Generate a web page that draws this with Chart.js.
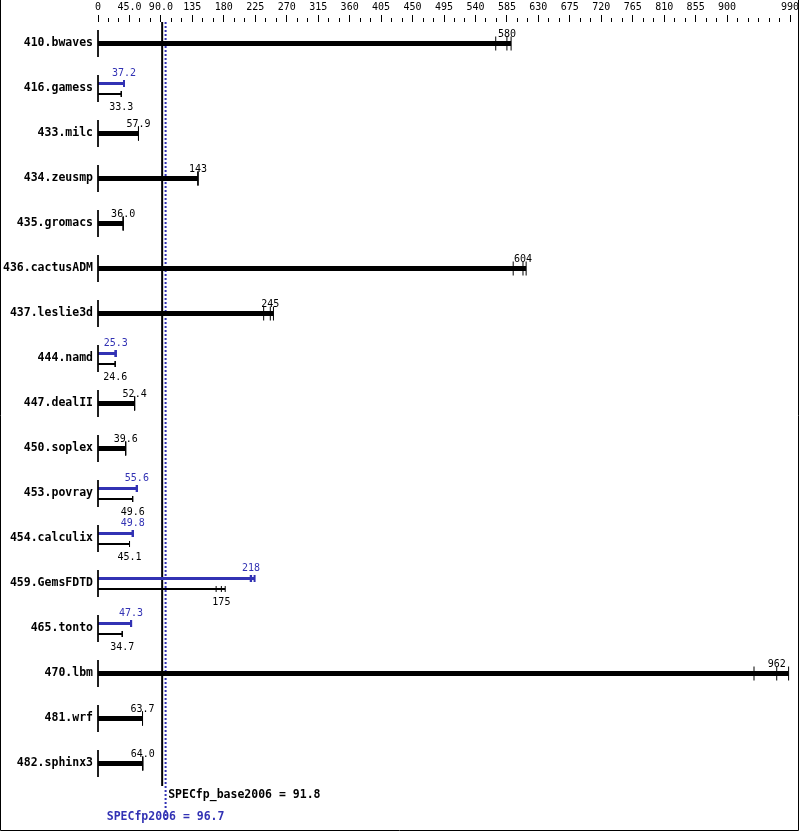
<!DOCTYPE html>
<html>
<head>
<meta charset="utf-8">
<title>SPECfp2006</title>
<script src="https://cdn.jsdelivr.net/npm/chart.js@4.4.1/dist/chart.umd.min.js"></script>
<style>
  html, body { margin: 0; padding: 0; background: #fff; }
  #chart { display: block; }
</style>
</head>
<body>
<canvas id="chart" width="799" height="831"></canvas>
<script>
  /* ---------- data ---------- */
  const benchmarks = [
    '410.bwaves', '416.gamess', '433.milc', '434.zeusmp', '435.gromacs',
    '436.cactusADM', '437.leslie3d', '444.namd', '447.dealII', '450.soplex',
    '453.povray', '454.calculix', '459.GemsFDTD', '465.tonto', '470.lbm',
    '481.wrf', '482.sphinx3'
  ];
  const baseScore = [580, 33.3, 57.9, 143, 36.0, 604, 245, 24.6, 52.4, 39.6, 49.6, 45.1, 175, 34.7, 962, 63.7, 64.0];
  const peakScore = [null, 37.2, null, null, null, null, null, 25.3, null, null, 55.6, 49.8, 218, 47.3, null, null, null];

  // individual runs (tick marks at the bar ends)
  const baseRuns = [
    [569, 585, 591], [33.3, 33.3, 33.3], [57.9, 57.9, 57.9], [143, 143, 143], [36.0, 36.0, 36.0],
    [594, 608, 612.5], [237, 246.5, 251], [24.6, 24.6, 24.6], [52.4, 52.4, 52.4], [39.6, 39.6, 39.6],
    [49.6, 49.6, 49.6], [45.1, 45.1, 45.1], [169, 176.5, 182], [34.7, 34.7, 34.7], [938.5, 971, 988],
    [63.7, 63.7, 63.7], [64.0, 64.0, 64.0]
  ];
  const peakRuns = [
    null, [37.2, 37.2, 37.2], null, null, null,
    null, null, [25.3, 25.3, 25.3], null, null,
    [55.6, 55.6, 55.6], [49.8, 49.8, 49.8], [218.5, 219, 224], [47.3, 47.3, 47.3], null,
    null, null
  ];

  const baseOverall = 91.8;
  const peakOverall = 96.7;

  const tickValues = [0, 45, 90, 135, 180, 225, 270, 315, 360, 405, 450, 495, 540, 585, 630, 675, 720, 765, 810, 855, 900, 990];
  const tickLabels = ['0', '45.0', '90.0', '135', '180', '225', '270', '315', '360', '405', '450', '495', '540', '585', '630', '675', '720', '765', '810', '855', '900', '990'];

  /* ---------- styling ---------- */
  const BLUE = '#3232b4';
  const MONO = '"DejaVu Sans Mono", monospace';
  const Y_MIN = -0.478, Y_MAX = 17.3;
  const PEAK_OFF = -0.111, BASE_OFF = 0.122;

  const hasPeak = i => peakScore[i] != null;
  const fmt = v => v >= 100 ? String(Math.round(v)) : v.toFixed(1);

  const seg = (data, color, width, extra = {}) => Object.assign({
    type: 'line', data, borderColor: color, borderWidth: width,
    pointRadius: 0, fill: false, tension: 0, clip: false
  }, extra);

  const datasets = [];
  const singleTicks = [], baseTicks = [], peakTicks = [];

  benchmarks.forEach((name, i) => {
    datasets.push(seg([{ x: 0, y: i - 0.3 }, { x: 0, y: i + 0.3 }], '#000', 1));
    if (hasPeak(i)) {
      const py = i + PEAK_OFF, by = i + BASE_OFF;
      datasets.push(seg([{ x: 0, y: py }, { x: Math.max(...peakRuns[i]), y: py }], BLUE, 3));
      datasets.push(seg([{ x: 0, y: by }, { x: Math.max(...baseRuns[i]), y: by }], '#000', 2));
      peakRuns[i].forEach(v => peakTicks.push({ x: v, y: py }));
      baseRuns[i].forEach(v => baseTicks.push({ x: v, y: by }));
    } else {
      datasets.push(seg([{ x: 0, y: i }, { x: Math.max(...baseRuns[i]), y: i }], '#000', 5));
      baseRuns[i].forEach(v => singleTicks.push({ x: v, y: i }));
    }
  });

  const tickSet = (data, color, radius, width) => ({
    type: 'scatter', data, showLine: false, clip: false,
    pointStyle: 'line', pointRotation: 90, pointRadius: radius,
    pointBorderColor: color, pointBackgroundColor: color, pointBorderWidth: width
  });
  datasets.push(tickSet(singleTicks, '#000', 7, 1));
  datasets.push(tickSet(baseTicks, '#000', 3, 1));
  datasets.push(tickSet(peakTicks, BLUE, 3.5, 2));

  // overall score lines
  datasets.push(seg([{ x: baseOverall, y: Y_MIN }, { x: baseOverall, y: 16.5 }], '#000', 2));
  datasets.push(seg([{ x: peakOverall, y: Y_MIN }, { x: peakOverall, y: 17.26 }], BLUE, 2, { borderDash: [2, 2] }));

  /* ---------- text labels + frame ---------- */
  const valueLabels = {
    id: 'valueLabels',
    afterDatasetsDraw(chart) {
      const { ctx, scales: { x, y } } = chart;
      ctx.save();
      ctx.font = '10px ' + MONO;
      ctx.textAlign = 'center';
      ctx.textBaseline = 'alphabetic';
      benchmarks.forEach((b, i) => {
        const cy = y.getPixelForValue(i);
        if (hasPeak(i)) {
          ctx.fillStyle = BLUE;
          ctx.fillText(fmt(peakScore[i]), x.getPixelForValue(peakRuns[i][1]), cy - 12.5);
          ctx.fillStyle = '#000';
          ctx.fillText(fmt(baseScore[i]), x.getPixelForValue(baseRuns[i][1]), cy + 21.5);
        } else {
          ctx.fillStyle = '#000';
          ctx.fillText(fmt(baseScore[i]), x.getPixelForValue(baseRuns[i][1]), cy - 7);
        }
      });

      ctx.font = 'bold 11.5px ' + MONO;
      ctx.textAlign = 'left';
      ctx.fillStyle = '#000';
      ctx.fillText('SPECfp_base2006 = ' + baseOverall.toFixed(1), x.getPixelForValue(baseOverall) + 6, 798);
      ctx.textAlign = 'center';
      ctx.fillStyle = BLUE;
      ctx.fillText('SPECfp2006 = ' + peakOverall.toFixed(1), x.getPixelForValue(peakOverall), 820);
      ctx.restore();
    },
    afterDraw(chart) {
      const { ctx, width, height } = chart;
      ctx.save();
      ctx.strokeStyle = '#000';
      ctx.lineWidth = 1;
      ctx.beginPath();
      ctx.moveTo(0.5, 0);
      ctx.lineTo(0.5, height - 0.5);
      ctx.lineTo(width - 0.5, height - 0.5);
      ctx.lineTo(width - 0.5, 0);
      ctx.stroke();
      ctx.restore();
    }
  };

  new Chart(document.getElementById('chart'), {
    type: 'scatter',
    data: { datasets },
    plugins: [valueLabels],
    options: {
      responsive: false,
      animation: false,
      events: [],
      layout: { padding: { left: 0, right: 9, top: 0, bottom: 9 } },
      plugins: { legend: { display: false }, tooltip: { enabled: false } },
      scales: {
        x: {
          type: 'linear',
          position: 'top',
          min: 0,
          max: 990,
          afterFit: s => { s.height = 22; s.paddingLeft = 0; s.paddingRight = 0; },
          border: { display: false },
          grid: {
            drawOnChartArea: false,
            drawTicks: true,
            tickLength: 7,
            tickColor: '#000',
            tickWidth: 1,
            tickBorderDash: ctx => (ctx.tick && ctx.tick.value % 45 === 0 && ctx.tick.value !== 945) ? [] : [0, 3, 20]
          },
          ticks: {
            stepSize: 15,
            autoSkip: false,
            maxRotation: 0,
            padding: 2,
            color: '#000',
            font: { family: MONO, size: 10 },
            callback: v => {
              const k = tickValues.indexOf(v);
              return k >= 0 ? tickLabels[k] : '';
            }
          }
        },
        y: {
          type: 'linear',
          reverse: true,
          min: Y_MIN,
          max: Y_MAX,
          afterFit: s => { s.width = 98; s.paddingTop = 0; s.paddingBottom = 0; },
          border: { display: false },
          grid: { display: false, drawTicks: false },
          ticks: {
            stepSize: 1,
            includeBounds: false,
            autoSkip: false,
            padding: 5,
            color: '#000',
            font: { family: MONO, size: 11.5, weight: 'bold' },
            callback: v => Number.isInteger(v) && benchmarks[v] ? benchmarks[v] : ''
          }
        }
      }
    }
  });
</script>
</body>
</html>
